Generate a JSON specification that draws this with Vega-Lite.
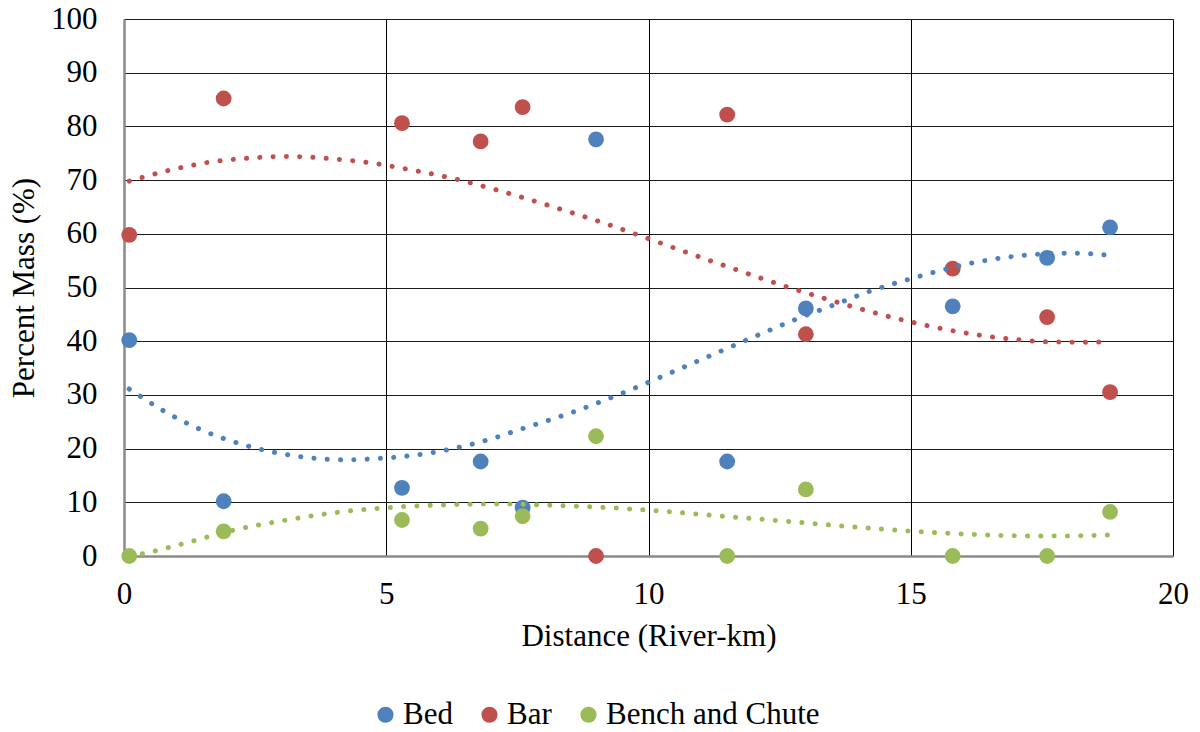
{
  "$schema": "https://vega.github.io/schema/vega-lite/v6.json",
  "width": 1049,
  "height": 537,
  "autosize": {"type": "none"},
  "padding": {"left": 124, "top": 19, "right": 27, "bottom": 176},
  "background": "white",
  "config": {
    "view": {"stroke": null},
    "font": "Liberation Serif",
    "axis": {
      "labelFont": "Liberation Serif",
      "titleFont": "Liberation Serif",
      "labelFontSize": 31,
      "titleFontSize": 31,
      "labelColor": "black",
      "titleColor": "black",
      "titleFontWeight": "normal",
      "labelFlush": false,
      "labelOverlap": false,
      "ticks": false,
      "tickSize": 0,
      "grid": true,
      "gridColor": "#1a1a1a",
      "gridWidth": 1,
      "domainColor": "#8a8a8a",
      "domainWidth": 2.5
    }
  },
  "datasets": {
    "points": [
      {"series": "Bed", "distance": 0.1, "mass": 40.2},
      {"series": "Bed", "distance": 1.9, "mass": 10.2},
      {"series": "Bed", "distance": 5.3, "mass": 12.7},
      {"series": "Bed", "distance": 6.8, "mass": 17.6},
      {"series": "Bed", "distance": 7.6, "mass": 9.0},
      {"series": "Bed", "distance": 9.0, "mass": 77.6},
      {"series": "Bed", "distance": 11.5, "mass": 17.6},
      {"series": "Bed", "distance": 13.0, "mass": 46.1},
      {"series": "Bed", "distance": 15.8, "mass": 46.5},
      {"series": "Bed", "distance": 17.6, "mass": 55.5},
      {"series": "Bed", "distance": 18.8, "mass": 61.2},
      {"series": "Bar", "distance": 0.1, "mass": 59.8},
      {"series": "Bar", "distance": 1.9, "mass": 85.2},
      {"series": "Bar", "distance": 5.3, "mass": 80.6},
      {"series": "Bar", "distance": 6.8, "mass": 77.2},
      {"series": "Bar", "distance": 7.6, "mass": 83.6},
      {"series": "Bar", "distance": 9.0, "mass": 0.0},
      {"series": "Bar", "distance": 11.5, "mass": 82.2},
      {"series": "Bar", "distance": 13.0, "mass": 41.3},
      {"series": "Bar", "distance": 15.8, "mass": 53.5},
      {"series": "Bar", "distance": 17.6, "mass": 44.5},
      {"series": "Bar", "distance": 18.8, "mass": 30.5},
      {"series": "Bench and Chute", "distance": 0.1, "mass": 0.0},
      {"series": "Bench and Chute", "distance": 1.9, "mass": 4.6},
      {"series": "Bench and Chute", "distance": 5.3, "mass": 6.7},
      {"series": "Bench and Chute", "distance": 6.8, "mass": 5.1},
      {"series": "Bench and Chute", "distance": 7.6, "mass": 7.4},
      {"series": "Bench and Chute", "distance": 9.0, "mass": 22.3},
      {"series": "Bench and Chute", "distance": 11.5, "mass": 0.0},
      {"series": "Bench and Chute", "distance": 13.0, "mass": 12.4},
      {"series": "Bench and Chute", "distance": 15.8, "mass": 0.0},
      {"series": "Bench and Chute", "distance": 17.6, "mass": 0.0},
      {"series": "Bench and Chute", "distance": 18.8, "mass": 8.2}
    ],
    "trend": [
      {"series": "Bed", "distance": 0.1, "mass": 31.1},
      {"series": "Bed", "distance": 0.32, "mass": 29.7},
      {"series": "Bed", "distance": 0.76, "mass": 27.0},
      {"series": "Bed", "distance": 1.45, "mass": 23.6},
      {"series": "Bed", "distance": 2.43, "mass": 20.3},
      {"series": "Bed", "distance": 3.45, "mass": 18.4},
      {"series": "Bed", "distance": 4.22, "mass": 17.9},
      {"series": "Bed", "distance": 4.74, "mass": 18.1},
      {"series": "Bed", "distance": 5.52, "mass": 18.75},
      {"series": "Bed", "distance": 6.28, "mass": 20.0},
      {"series": "Bed", "distance": 7.03, "mass": 21.9},
      {"series": "Bed", "distance": 7.53, "mass": 23.5},
      {"series": "Bed", "distance": 8.5, "mass": 26.6},
      {"series": "Bed", "distance": 9.47, "mass": 30.2},
      {"series": "Bed", "distance": 10.18, "mass": 33.1},
      {"series": "Bed", "distance": 11.13, "mass": 37.1},
      {"series": "Bed", "distance": 12.08, "mass": 41.1},
      {"series": "Bed", "distance": 12.79, "mass": 44.0},
      {"series": "Bed", "distance": 13.52, "mass": 46.7},
      {"series": "Bed", "distance": 14.25, "mass": 49.4},
      {"series": "Bed", "distance": 14.99, "mass": 51.6},
      {"series": "Bed", "distance": 16.24, "mass": 54.7},
      {"series": "Bed", "distance": 17.27, "mass": 56.1},
      {"series": "Bed", "distance": 18.05, "mass": 56.4},
      {"series": "Bed", "distance": 18.56, "mass": 56.2},
      {"series": "Bed", "distance": 18.8, "mass": 56.0},
      {"series": "Bar", "distance": 0.1, "mass": 69.8},
      {"series": "Bar", "distance": 0.85, "mass": 71.8},
      {"series": "Bar", "distance": 1.61, "mass": 73.3},
      {"series": "Bar", "distance": 2.38, "mass": 74.1},
      {"series": "Bar", "distance": 3.16, "mass": 74.4},
      {"series": "Bar", "distance": 3.93, "mass": 74.0},
      {"series": "Bar", "distance": 4.71, "mass": 73.2},
      {"series": "Bar", "distance": 5.47, "mass": 71.9},
      {"series": "Bar", "distance": 6.23, "mass": 70.4},
      {"series": "Bar", "distance": 6.98, "mass": 68.5},
      {"series": "Bar", "distance": 8.22, "mass": 64.9},
      {"series": "Bar", "distance": 9.21, "mass": 61.8},
      {"series": "Bar", "distance": 9.94, "mass": 59.3},
      {"series": "Bar", "distance": 10.68, "mass": 56.7},
      {"series": "Bar", "distance": 11.65, "mass": 53.4},
      {"series": "Bar", "distance": 12.63, "mass": 50.15},
      {"series": "Bar", "distance": 13.38, "mass": 47.9},
      {"series": "Bar", "distance": 14.12, "mass": 45.8},
      {"series": "Bar", "distance": 14.87, "mass": 43.9},
      {"series": "Bar", "distance": 15.88, "mass": 41.8},
      {"series": "Bar", "distance": 16.91, "mass": 40.4},
      {"series": "Bar", "distance": 17.69, "mass": 39.85},
      {"series": "Bar", "distance": 18.46, "mass": 39.8},
      {"series": "Bar", "distance": 18.8, "mass": 40.0},
      {"series": "Bench and Chute", "distance": 0.1, "mass": 0.0},
      {"series": "Bench and Chute", "distance": 0.34, "mass": 0.4},
      {"series": "Bench and Chute", "distance": 1.09, "mass": 2.2},
      {"series": "Bench and Chute", "distance": 2.08, "mass": 4.8},
      {"series": "Bench and Chute", "distance": 3.1, "mass": 6.7},
      {"series": "Bench and Chute", "distance": 4.13, "mass": 8.2},
      {"series": "Bench and Chute", "distance": 5.17, "mass": 9.1},
      {"series": "Bench and Chute", "distance": 6.2, "mass": 9.55},
      {"series": "Bench and Chute", "distance": 7.23, "mass": 9.7},
      {"series": "Bench and Chute", "distance": 8.1, "mass": 9.45},
      {"series": "Bench and Chute", "distance": 9.04, "mass": 9.1},
      {"series": "Bench and Chute", "distance": 10.06, "mass": 8.5},
      {"series": "Bench and Chute", "distance": 11.36, "mass": 7.45},
      {"series": "Bench and Chute", "distance": 12.65, "mass": 6.45},
      {"series": "Bench and Chute", "distance": 13.94, "mass": 5.4},
      {"series": "Bench and Chute", "distance": 15.23, "mass": 4.5},
      {"series": "Bench and Chute", "distance": 16.52, "mass": 3.9},
      {"series": "Bench and Chute", "distance": 17.55, "mass": 3.7},
      {"series": "Bench and Chute", "distance": 18.58, "mass": 3.85},
      {"series": "Bench and Chute", "distance": 18.8, "mass": 3.9}
    ]
  },
  "layer": [
    {
      "data": {"name": "points"},
      "mark": {"type": "point", "filled": true, "opacity": 1, "size": 250, "shape": "circle"},
      "encoding": {
        "x": {
          "field": "distance", "type": "quantitative",
          "scale": {"domain": [0, 20], "nice": false, "zero": false},
          "axis": {"values": [0, 5, 10, 15, 20], "title": "Distance (River-km)", "labelPadding": 23, "titlePadding": 12, "gridColor": "#000000"}
        },
        "y": {
          "field": "mass", "type": "quantitative",
          "scale": {"domain": [0, 100], "nice": false},
          "axis": {"values": [0, 10, 20, 30, 40, 50, 60, 70, 80, 90, 100], "title": "Percent Mass (%)", "labelPadding": 27, "titlePadding": 10}
        },
        "color": {
          "field": "series", "type": "nominal",
          "scale": {"domain": ["Bed", "Bar", "Bench and Chute"], "range": ["#4F81BD", "#C0504D", "#9BBB59"]},
          "legend": {
            "orient": "none", "legendX": 246, "legendY": 680, "direction": "horizontal",
            "title": null, "symbolType": "circle", "symbolSize": 260, "symbolStrokeWidth": 0,
            "labelFont": "Liberation Serif", "labelFontSize": 31, "labelColor": "black",
            "labelLimit": 400, "labelOffset": 2, "columnPadding": 21
          }
        }
      }
    },
    {
      "data": {"name": "trend"},
      "mark": {"type": "line", "strokeWidth": 5, "strokeDash": [0.1, 13.2], "strokeCap": "round", "interpolate": "monotone"},
      "encoding": {
        "x": {"field": "distance", "type": "quantitative"},
        "y": {"field": "mass", "type": "quantitative"},
        "color": {"field": "series", "type": "nominal", "legend": null}
      }
    },
    {
      "mark": {"type": "rule", "color": "black", "strokeWidth": 3},
      "encoding": {"y": {"datum": 100}}
    },
    {
      "mark": {"type": "rule", "color": "black", "strokeWidth": 3},
      "encoding": {"x": {"datum": 20}}
    }
  ]
}
